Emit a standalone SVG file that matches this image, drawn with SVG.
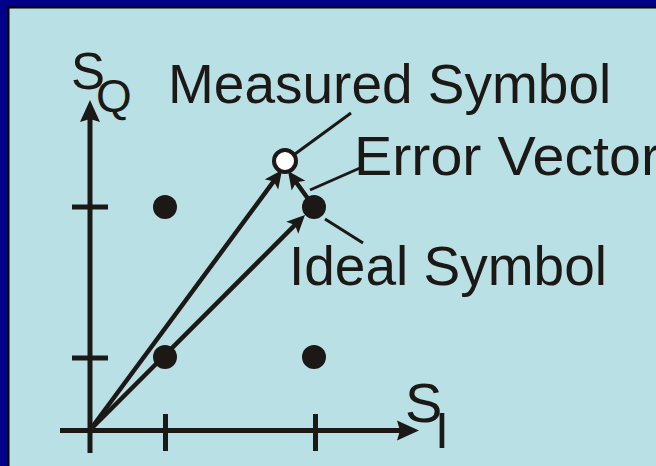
<svg xmlns="http://www.w3.org/2000/svg" width="656" height="466" viewBox="0 0 656 466">
<style>
.ax{stroke:#1c1816;stroke-width:5;fill:none}
.vec{stroke:#1c1816;stroke-width:4.5;fill:none}
.lead{stroke:#1c1816;stroke-width:3;fill:none}
.dot{fill:#1c1816}
.t{font-family:"Liberation Sans",Arial,sans-serif;fill:#1c1816}
</style>
<defs>
<marker id="axarr" markerUnits="userSpaceOnUse" markerWidth="24" markerHeight="22" viewBox="0 0 24 22" refX="12" refY="11" orient="auto">
<path d="M0,1 L22,11 L0,21 L3,11 z" fill="#1c1816"/>
</marker>
<marker id="varr" markerUnits="userSpaceOnUse" markerWidth="20" markerHeight="20" viewBox="0 0 20 20" refX="10" refY="9" orient="auto">
<path d="M0,0.5 L18,9 L0,17.5 L4,9 z" fill="#1c1816"/>
</marker>
</defs>
<rect x="0" y="0" width="656" height="466" fill="#000088"/>
<rect x="8.5" y="7.5" width="660" height="470" fill="#b9e0e4" stroke="#000000" stroke-width="2"/>
<g id="axes">
<line class="ax" x1="60" y1="430.5" x2="409" y2="430.5" marker-end="url(#axarr)"/>
<line class="ax" x1="90" y1="453" x2="90" y2="110" marker-end="url(#axarr)"/>
<line class="ax" x1="72" y1="207" x2="108" y2="207"/>
<line class="ax" x1="72" y1="358" x2="108" y2="358"/>
<line class="ax" x1="165.5" y1="414" x2="165.5" y2="451"/>
<line class="ax" x1="315.5" y1="414" x2="315.5" y2="451"/>
</g>
<g id="connectors">
<line class="vec" x1="90" y1="430" x2="277.3" y2="176.4" marker-end="url(#varr)"/>
<line class="vec" x1="314" y1="207" x2="292.7" y2="177.5" marker-end="url(#varr)"/>
<line class="vec" x1="90" y1="430" x2="299.3" y2="220.7" marker-end="url(#varr)"/>
<line class="lead" x1="295" y1="154" x2="351" y2="113"/>
<line class="lead" x1="310" y1="190" x2="360" y2="168"/>
<line class="lead" x1="325" y1="219" x2="363" y2="243"/>
</g>
<g id="symbol-1-1"><circle class="dot" cx="165" cy="357" r="12"/></g>
<g id="symbol-1-2"><circle class="dot" cx="165" cy="207" r="12"/></g>
<g id="symbol-2-1"><circle class="dot" cx="314" cy="357" r="12"/></g>
<g id="ideal-symbol"><circle class="dot" cx="314" cy="207" r="12"/></g>
<g id="measured-symbol"><circle cx="285" cy="161" r="11" fill="#ffffff" stroke="#1c1816" stroke-width="4"/></g>
<g id="label-sq">
<text class="t" x="71" y="89" font-size="51">S<tspan x="96" y="112" font-size="46">Q</tspan></text>
</g>
<g id="label-si">
<text class="t" x="405" y="422" font-size="56">S<tspan x="435" y="448" font-size="50">I</tspan></text>
</g>
<g id="label-measured"><text class="t" x="168" y="103" font-size="55">Measured Symbol</text></g>
<g id="label-error"><text class="t" x="354" y="175" font-size="55" textLength="306" lengthAdjust="spacingAndGlyphs">Error Vector</text></g>
<g id="label-ideal"><text class="t" x="289" y="285" font-size="55">Ideal Symbol</text></g>
</svg>
